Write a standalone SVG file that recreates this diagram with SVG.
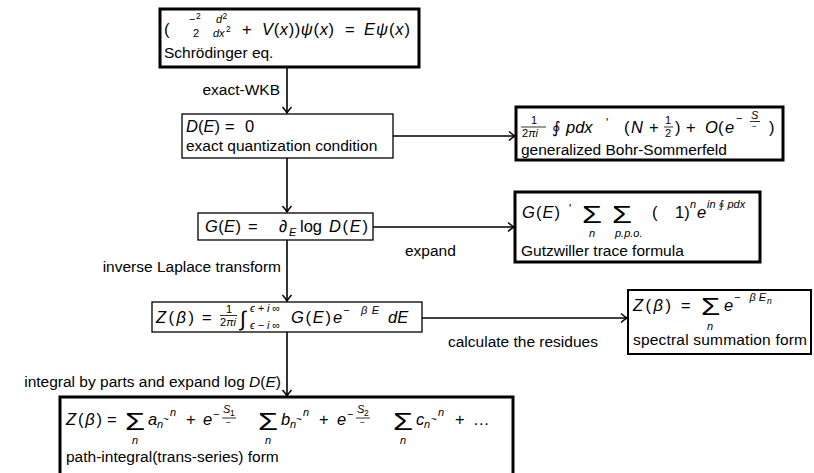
<svg xmlns="http://www.w3.org/2000/svg" width="814" height="473" viewBox="0 0 814 473">
<style>
.t{font-family:"Liberation Sans","DejaVu Sans",sans-serif;font-size:15.5px;fill:#000}
.m{font-size:16.5px}
.i{font-style:italic}
.s{font-size:11px}
.xs{font-size:8.5px}
.sig{font-size:24px}
.apo{font-size:12px}
.til{font-size:10px}
.int{font-size:21px}
.thick{fill:#fff;stroke:#000;stroke-width:3}
.thin{fill:#fff;stroke:#000;stroke-width:1.3}
.mid{fill:#fff;stroke:#000;stroke-width:2}
.bar{stroke:#000;stroke-width:0.8}
.conn line{stroke:#000;stroke-width:1.6;marker-end:url(#ah)}
</style>
<defs>
<marker id="ah" markerUnits="userSpaceOnUse" markerWidth="12" markerHeight="12" refX="10" refY="6" orient="auto">
<path d="M4,1.5 Q8,5 10,6 Q8,7 4,10.5" fill="none" stroke="#000" stroke-width="1.5"/>
</marker>
</defs>
<rect width="814" height="473" fill="#fff"/>

<g id="connectors" class="conn">
<line x1="287" y1="67" x2="287" y2="113"/>
<line x1="287" y1="158" x2="287" y2="212"/>
<line x1="287" y1="240" x2="287" y2="301"/>
<line x1="287" y1="332" x2="287" y2="396"/>
<line x1="393" y1="136" x2="515" y2="136"/>
<line x1="373" y1="227" x2="514" y2="227"/>
<line x1="422" y1="318" x2="627" y2="318"/>
</g>

<g id="labels">
<text class="t" x="280" y="95" text-anchor="end">exact-WKB</text>
<text class="t" x="281" y="272" text-anchor="end">inverse Laplace transform</text>
<text class="t" x="281" y="387" text-anchor="end">integral by parts and expand log <tspan class="i">D</tspan>(<tspan class="i">E</tspan>)</text>
<text class="t" x="405" y="256">expand</text>
<text class="t" x="448" y="347">calculate the residues</text>
</g>

<g id="schrodinger">
<rect x="160" y="9" width="259" height="58" class="thick"/>
<text class="t m" x="164" y="35">(</text>
<text class="t s" x="189" y="23">−</text><text class="t xs" x="196" y="19">2</text>
<text class="t s" x="193" y="37">2</text>
<text class="t s i" x="216" y="23">d</text><text class="t xs" x="222.5" y="19">2</text>
<text class="t s i" x="213" y="37">dx</text><text class="t xs" x="226" y="32">2</text>
<text class="t m" x="242" y="35">+</text>
<text class="t m" x="262" y="35" textLength="72" lengthAdjust="spacing"><tspan class="i">V</tspan>(<tspan class="i">x</tspan>))<tspan class="i">ψ</tspan>(<tspan class="i">x</tspan>)</text>
<text class="t m" x="345" y="35">=</text>
<text class="t m" x="364" y="35" textLength="46" lengthAdjust="spacing"><tspan class="i">Eψ</tspan>(<tspan class="i">x</tspan>)</text>
<text class="t" x="164" y="58">Schrödinger eq.</text>
</g>

<g id="quantization">
<rect x="182" y="114" width="211" height="44" class="thin"/>
<text class="t m" x="186" y="132"><tspan class="i">D</tspan>(<tspan class="i">E</tspan>)</text>
<text class="t m" x="225" y="132">=</text>
<text class="t m" x="245" y="132">0</text>
<text class="t" x="186" y="151">exact quantization condition</text>
</g>

<g id="bohr-sommerfeld">
<rect x="516" y="107" width="267" height="53" class="thick"/>
<text class="t s" x="531" y="124">1</text>
<line class="bar" x1="521" y1="127" x2="546" y2="127"/>
<text class="t s" x="522" y="137">2<tspan class="i">πi</tspan></text>
<text class="t m" x="552" y="133">∮</text>
<text class="t m i" x="566" y="133">pdx</text>
<text class="t apo" x="606" y="127">'</text>
<text class="t m" x="624" y="133">(</text>
<text class="t m i" x="631" y="133">N</text>
<text class="t m" x="649" y="133">+</text>
<text class="t s" x="665" y="124">1</text>
<line class="bar" x1="664" y1="127" x2="673" y2="127"/>
<text class="t s" x="665" y="137">2</text>
<text class="t m" x="675" y="133">)</text>
<text class="t m" x="686" y="133">+</text>
<text class="t m i" x="705" y="133">O</text>
<text class="t m" x="718" y="133">(</text>
<text class="t m i" x="725" y="133">e</text>
<text class="t s" x="736" y="122">−</text>
<text class="t s i" x="751" y="119">S</text>
<line class="bar" x1="750" y1="121.5" x2="760" y2="121.5"/>
<text class="t xs" x="752" y="129">−</text>
<text class="t m" x="769" y="133">)</text>
<text class="t" x="521" y="155">generalized Bohr-Sommerfeld</text>
</g>

<g id="green">
<rect x="198" y="213" width="175" height="27" class="thin"/>
<text class="t m" x="205" y="232" textLength="36" lengthAdjust="spacing"><tspan class="i">G</tspan>(<tspan class="i">E</tspan>)</text>
<text class="t m" x="248" y="232">=</text>
<text class="t m i" x="279" y="232">∂</text>
<text class="t s i" x="289" y="236">E</text>
<text class="t m" x="300" y="232">log</text>
<text class="t m" x="329" y="232" textLength="39" lengthAdjust="spacing"><tspan class="i">D</tspan>(<tspan class="i">E</tspan>)</text>
</g>

<g id="gutzwiller">
<rect x="515" y="192" width="245" height="70" class="thick"/>
<text class="t m" x="522" y="218" textLength="38" lengthAdjust="spacing"><tspan class="i">G</tspan>(<tspan class="i">E</tspan>)</text>
<text class="t apo" x="569" y="213">'</text>
<text class="t sig" transform="translate(582,223) scale(1.35,1)">Σ</text>
<text class="t s i" x="589" y="237">n</text>
<text class="t sig" transform="translate(612,223) scale(1.35,1)">Σ</text>
<text class="t s i" x="615" y="237">p.p.o.</text>
<text class="t m" x="652" y="218">(</text>
<text class="t m" x="675" y="218">1)</text>
<text class="t s i" x="690" y="208">n</text>
<text class="t m i" x="697" y="218">e</text>
<text class="t s i" x="707" y="208">in ∮ pdx</text>
<text class="t" x="521" y="256">Gutzwiller trace formula</text>
</g>

<g id="laplace">
<rect x="152" y="302" width="270" height="30" class="thin"/>
<text class="t m" x="156" y="323" textLength="38" lengthAdjust="spacing"><tspan class="i">Z</tspan>(<tspan class="i">β</tspan>)</text>
<text class="t m" x="202" y="323">=</text>
<text class="t s" x="226" y="313">1</text>
<line class="bar" x1="220" y1="315.5" x2="237" y2="315.5"/>
<text class="t s" x="220" y="326">2<tspan class="i">πi</tspan></text>
<text class="t int" x="240" y="326">∫</text>
<text class="t s i" x="250" y="312" textLength="30" lengthAdjust="spacing">ϵ+i∞</text>
<text class="t s i" x="250" y="329" textLength="30" lengthAdjust="spacing">ϵ−i∞</text>
<text class="t m" x="291" y="323" textLength="40" lengthAdjust="spacing"><tspan class="i">G</tspan>(<tspan class="i">E</tspan>)</text>
<text class="t m i" x="333" y="323">e</text>
<text class="t s i" x="343" y="314" textLength="36" lengthAdjust="spacing">− βE</text>
<text class="t m i" x="388" y="323">dE</text>
</g>

<g id="spectral">
<rect x="628" y="290" width="183" height="64" class="mid"/>
<text class="t m" x="633" y="311" textLength="38" lengthAdjust="spacing"><tspan class="i">Z</tspan>(<tspan class="i">β</tspan>)</text>
<text class="t m" x="681" y="311">=</text>
<text class="t sig" transform="translate(701,315) scale(1.3,1)">Σ</text>
<text class="t s i" x="707" y="330">n</text>
<text class="t m i" x="724" y="311">e</text>
<text class="t s i" x="734" y="301" textLength="32" lengthAdjust="spacing">− βE</text>
<text class="t xs i" x="767" y="304">n</text>
<text class="t" x="633" y="345" textLength="174" lengthAdjust="spacing">spectral summation form</text>
</g>

<g id="trans-series">
<rect x="60" y="397" width="453" height="90" class="thick"/>
<text class="t m" x="66" y="425" textLength="36" lengthAdjust="spacing"><tspan class="i">Z</tspan>(<tspan class="i">β</tspan>)</text>
<text class="t m" x="107" y="425">=</text>
<!-- block 1 -->
<text class="t sig" transform="translate(125,430) scale(1.35,1)">Σ</text>
<text class="t s i" x="132" y="444">n</text>
<text class="t m i" x="148" y="425">a</text><text class="t s i" x="157" y="428">n</text>
<text class="t til" x="163" y="423">~</text>
<text class="t s i" x="170" y="416">n</text>
<text class="t m" x="186" y="425">+</text>
<text class="t m i" x="203" y="425">e</text>
<text class="t s" x="213" y="418">−</text>
<text class="t s i" x="223" y="413">S</text><text class="t xs" x="230" y="416">1</text>
<line class="bar" x1="222" y1="418" x2="236" y2="418"/>
<text class="t xs" x="226" y="425">−</text>
<!-- block 2 -->
<text class="t sig" transform="translate(258,430) scale(1.35,1)">Σ</text>
<text class="t s i" x="265" y="444">n</text>
<text class="t m i" x="281" y="425">b</text><text class="t s i" x="290" y="428">n</text>
<text class="t til" x="296" y="423">~</text>
<text class="t s i" x="303" y="416">n</text>
<text class="t m" x="319" y="425">+</text>
<text class="t m i" x="337" y="425">e</text>
<text class="t s" x="347" y="418">−</text>
<text class="t s i" x="357" y="413">S</text><text class="t xs" x="364" y="416">2</text>
<line class="bar" x1="356" y1="418" x2="370" y2="418"/>
<text class="t xs" x="360" y="425">−</text>
<!-- block 3 -->
<text class="t sig" transform="translate(393,430) scale(1.35,1)">Σ</text>
<text class="t s i" x="400" y="444">n</text>
<text class="t m i" x="416" y="425">c</text><text class="t s i" x="424" y="428">n</text>
<text class="t til" x="431" y="423">~</text>
<text class="t s i" x="438" y="416">n</text>
<text class="t m" x="455" y="425">+</text>
<text class="t m" x="473" y="425" textLength="22" lengthAdjust="spacing">…</text>
<text class="t" x="66" y="462">path-integral(trans-series) form</text>
</g>
</svg>
